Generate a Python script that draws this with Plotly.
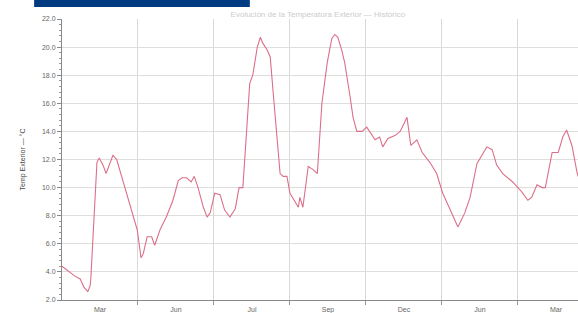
import plotly.graph_objects as go

# time in display periods (one period per gridline interval)
period = [0.00, 0.05, 0.105, 0.17, 0.24, 0.29, 0.34, 0.37, 0.38, 0.42, 0.46, 0.49, 0.54, 0.58,
          0.63, 0.67, 0.72, 0.80, 0.89, 0.99, 1.04, 1.07, 1.12, 1.18, 1.22, 1.29, 1.38, 1.46,
          1.53, 1.58, 1.64, 1.70, 1.74, 1.79, 1.86, 1.91, 1.95, 2.01, 2.08, 2.14, 2.21, 2.28,
          2.33, 2.38, 2.43, 2.47, 2.51, 2.57, 2.61, 2.64, 2.70, 2.74, 2.78, 2.83, 2.87, 2.91,
          2.96, 3.00, 3.07, 3.11, 3.13, 3.17, 3.24, 3.30, 3.36, 3.42, 3.49, 3.55, 3.59, 3.63,
          3.68, 3.72, 3.79, 3.83, 3.88, 3.95, 4.01, 4.05, 4.12, 4.18, 4.22, 4.29, 4.38, 4.45,
          4.54, 4.59, 4.67, 4.74, 4.84, 4.93, 5.01, 5.11, 5.21, 5.30, 5.37, 5.46, 5.53, 5.59,
          5.66, 5.72, 5.80, 5.93, 6.05, 6.13, 6.18, 6.25, 6.32, 6.36, 6.45, 6.53, 6.59, 6.64,
          6.71, 6.78, 6.82]
temp_c = [4.4, 4.2, 4.0, 3.7, 3.5, 2.9, 2.6, 3.0, 3.6, 8.0, 11.8, 12.1, 11.6, 11.0,
          11.7, 12.3, 12.0, 10.5, 8.9, 7.0, 5.0, 5.3, 6.5, 6.5, 5.9, 7.0, 8.0, 9.1,
          10.5, 10.7, 10.7, 10.4, 10.8, 10.0, 8.6, 7.9, 8.2, 9.6, 9.5, 8.4, 7.9, 8.5,
          10.0, 10.0, 14.1, 17.4, 18.0, 20.0, 20.7, 20.3, 19.8, 19.3, 16.7, 13.2, 11.0, 10.8,
          10.8, 9.6, 8.9, 8.6, 9.3, 8.6, 11.5, 11.3, 11.0, 16.0, 18.9, 20.6, 20.9, 20.7,
          19.8, 18.9, 16.5, 15.0, 14.0, 14.0, 14.3, 14.0, 13.4, 13.6, 12.9, 13.5, 13.7, 14.0,
          15.0, 13.0, 13.4, 12.5, 11.8, 11.0, 9.6, 8.4, 7.2, 8.2, 9.3, 11.7, 12.3, 12.9,
          12.7, 11.6, 11.0, 10.4, 9.7, 9.1, 9.3, 10.2, 10.0, 10.0, 12.5, 12.5, 13.6, 14.1,
          13.0, 11.0, 10.4]

month_labels = ["Mar", "Jun", "Jul", "Sep", "Dec", "Jun", "Mar"]
label_pos = [0.5, 1.5, 2.5, 3.5, 4.5, 5.5, 6.5]
grid_pos = [1, 2, 3, 4, 5, 6]
y_ticks = [2, 4, 6, 8, 10, 12, 14, 16, 18, 20, 22]

fig = go.Figure()
fig.add_trace(go.Scatter(x=period, y=temp_c, mode="lines",
                         line=dict(color="#dc6f88", width=1.1), hoverinfo="skip"))

fig.update_layout(
    width=578, height=313,
    margin=dict(l=62, r=0, t=19, b=13, autoexpand=False),
    paper_bgcolor="white", plot_bgcolor="white",
    showlegend=False,
    font=dict(family="Liberation Sans, Arial, sans-serif", color="#555"),
    title=dict(text="Evolución de la Temperatura Exterior — Histórico",
               x=0.55, xanchor="center", y=0.955, yanchor="middle",
               font=dict(size=8, color="#cccccc")),
    shapes=[dict(type="rect", xref="paper", yref="paper",
                 x0=-0.054, x1=0.364, y0=1.0427, y1=1.08,
                 fillcolor="#003a80", line=dict(width=0), layer="above")],
)
fig.update_xaxes(
    range=[0, 6.79], tickvals=label_pos, ticktext=month_labels,
    ticks="", showgrid=False, zeroline=False, automargin=False,
    showline=True, linecolor="#888", linewidth=1,
    tickfont=dict(size=7, color="#666"), ticklabelstandoff=3,
    minor=dict(tickvals=grid_pos, showgrid=True, gridcolor="#d8d8d8", gridwidth=1,
               ticks="outside", ticklen=4, tickcolor="#999"),
)
fig.update_yaxes(
    range=[2, 22], tickvals=y_ticks, tickformat=".1f",
    ticks="outside", ticklen=4, tickcolor="#888", automargin=False,
    showgrid=True, gridcolor="#dedede", gridwidth=1, zeroline=False,
    showline=True, linecolor="#888", linewidth=1,
    tickfont=dict(size=7, color="#666"),
    minor=dict(dtick=0.4, ticks="outside", ticklen=2, tickcolor="#999", showgrid=False),
    title=dict(text="Temp Exterior — °C", font=dict(size=7, color="#444"), standoff=15),
)

fig.write_html("out.html", config={"displayModeBar": False},
               post_script="document.body.style.margin='0';document.body.style.overflow='hidden';")
